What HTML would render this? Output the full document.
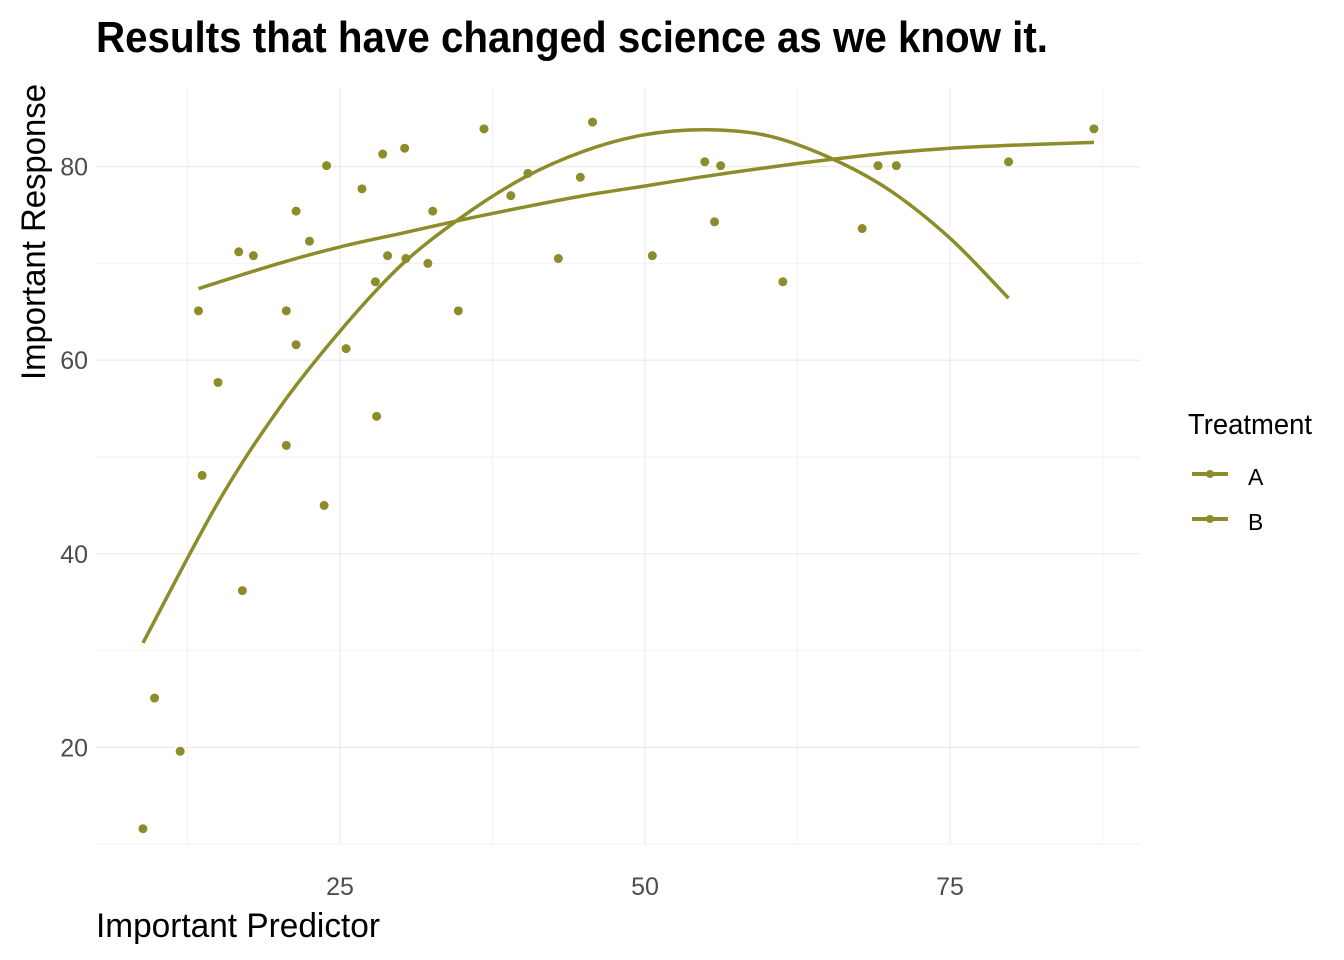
<!DOCTYPE html>
<html><head><meta charset="utf-8">
<style>
body{margin:0;background:#fff;}
svg{display:block;font-family:"Liberation Sans Narrow","Liberation Sans",sans-serif;}
</style></head>
<body>
<svg id="chart" width="1344" height="960" viewBox="0 0 1344 960">
<text x="96" y="52" font-size="44" font-weight="bold" fill="#000" textLength="952" lengthAdjust="spacingAndGlyphs">Results that have changed science as we know it.</text>
<g id="grid"></g>
<g id="axes"></g>
<g id="marks"></g>
<text x="96" y="937" font-size="34" fill="#000" textLength="284" lengthAdjust="spacingAndGlyphs">Important Predictor</text>
<text transform="translate(45,232) rotate(-90)" text-anchor="middle" font-size="34" fill="#000" textLength="296" lengthAdjust="spacingAndGlyphs">Important Response</text>
<g>
<text x="1188" y="434" font-size="29" fill="#000" textLength="124" lengthAdjust="spacingAndGlyphs">Treatment</text>
<g>
<line x1="1192" y1="474" x2="1228" y2="474" stroke="#8c8c2a" stroke-width="4"/>
<circle cx="1210" cy="474" r="4" fill="#8c8c2a"/>
<text x="1248" y="485" font-size="23" fill="#000">A</text></g>
<g>
<line x1="1192" y1="519" x2="1228" y2="519" stroke="#8c8c2a" stroke-width="4"/>
<circle cx="1210" cy="519" r="4" fill="#8c8c2a"/>
<text x="1248" y="530" font-size="23" fill="#000">B</text></g>
</g>
</svg>
<script>
const xTicks=[25,50,75];
const yTicks=[20,40,60,80];
const xMinor=[12.5,37.5,62.5,87.5];
const yMinor=[10,30,50,70];
const pointX=[8.85,9.8,11.9,13.4,13.7,15.0,16.7,17.0,17.9,20.6,20.6,21.4,21.4,22.5,23.7,23.9,25.5,26.8,27.9,28.0,28.5,28.9,30.3,30.4,32.2,32.6,34.7,36.8,39.0,40.4,42.9,44.7,45.7,50.6,54.9,55.7,56.2,61.3,67.8,69.1,70.6,79.8,86.8];
const pointY=[11.6,25.1,19.6,65.1,48.1,57.7,71.2,36.2,70.8,65.1,51.2,75.4,61.6,72.3,45.0,80.1,61.2,77.7,68.1,54.2,81.3,70.8,81.9,70.5,70.0,75.4,65.1,83.9,77.0,79.3,70.5,78.9,84.6,70.8,80.5,74.3,80.1,68.1,73.6,80.1,80.1,80.5,83.9];
const lineAX=[8.85,15,20,25,30,35,40,45,50,55,60,65,70,75,79.8];
const lineAY=[30.8,45.3,55.0,63.0,69.8,74.8,78.8,81.6,83.3,83.8,83.2,81.0,77.6,72.6,66.4];
const lineBX=[13.4,20,25,30,35,40,45,50,55,60,65,70,75,80,86.8];
const lineBY=[67.4,70.0,71.7,73.1,74.5,75.8,77.0,78.0,79.0,79.9,80.7,81.4,81.9,82.2,82.5];
const NS="http://www.w3.org/2000/svg";
const X=v=>35+v*12.2;
const Y=v=>941-v*9.68;
const L=96,R=1140,T=88,B=843;
function mk(tag,attrs,parent){const e=document.createElementNS(NS,tag);for(const k in attrs)e.setAttribute(k,attrs[k]);parent.appendChild(e);return e;}
const grid=document.getElementById('grid'),axes=document.getElementById('axes'),marks=document.getElementById('marks');
xMinor.forEach(v=>{const e=mk('line',{x1:X(v),x2:X(v),y1:T,y2:B,stroke:'#f2f2f2','stroke-width':1},grid);

});
yMinor.forEach(v=>{const e=mk('line',{x1:L,x2:R,y1:Y(v),y2:Y(v),stroke:'#f2f2f2','stroke-width':1},grid);

});
xTicks.forEach(v=>{const e=mk('line',{x1:X(v),x2:X(v),y1:T,y2:B,stroke:'#ebebeb','stroke-width':1.2},grid);


const t=mk('text',{x:X(v),y:895,'text-anchor':'middle','font-size':25,fill:'#4d4d4d'},axes);t.textContent=v;

});
yTicks.forEach(v=>{const e=mk('line',{x1:L,x2:R,y1:Y(v),y2:Y(v),stroke:'#ebebeb','stroke-width':1.2},grid);


const t=mk('text',{x:88,y:Y(v)+9,'text-anchor':'end','font-size':25,fill:'#4d4d4d'},axes);t.textContent=v;

});
pointX.forEach((v,i)=>{const c=mk('circle',{cx:X(v),cy:Y(pointY[i]),r:4.5,fill:'#8c8c2a'},marks);

});
function path(xs,ys){
  const p=xs.map((v,i)=>[X(v),Y(ys[i])]);
  let d='M'+p[0][0].toFixed(1)+','+p[0][1].toFixed(1);
  for(let i=0;i<p.length-1;i++){
    const p0=p[i-1]||p[i],p1=p[i],p2=p[i+1],p3=p[i+2]||p2;
    const c1=[p1[0]+(p2[0]-p0[0])/6,p1[1]+(p2[1]-p0[1])/6];
    const c2=[p2[0]-(p3[0]-p1[0])/6,p2[1]-(p3[1]-p1[1])/6];
    d+=' C'+c1.map(n=>n.toFixed(1)).join(',')+' '+c2.map(n=>n.toFixed(1)).join(',')+' '+p2.map(n=>n.toFixed(1)).join(',');
  }
  return d;
}
const pa=mk('path',{d:path(lineAX,lineAY),fill:'none',stroke:'#8c8c2a','stroke-width':3.5},marks);


const pb=mk('path',{d:path(lineBX,lineBY),fill:'none',stroke:'#8c8c2a','stroke-width':3.5},marks);


</script>
</body></html>
